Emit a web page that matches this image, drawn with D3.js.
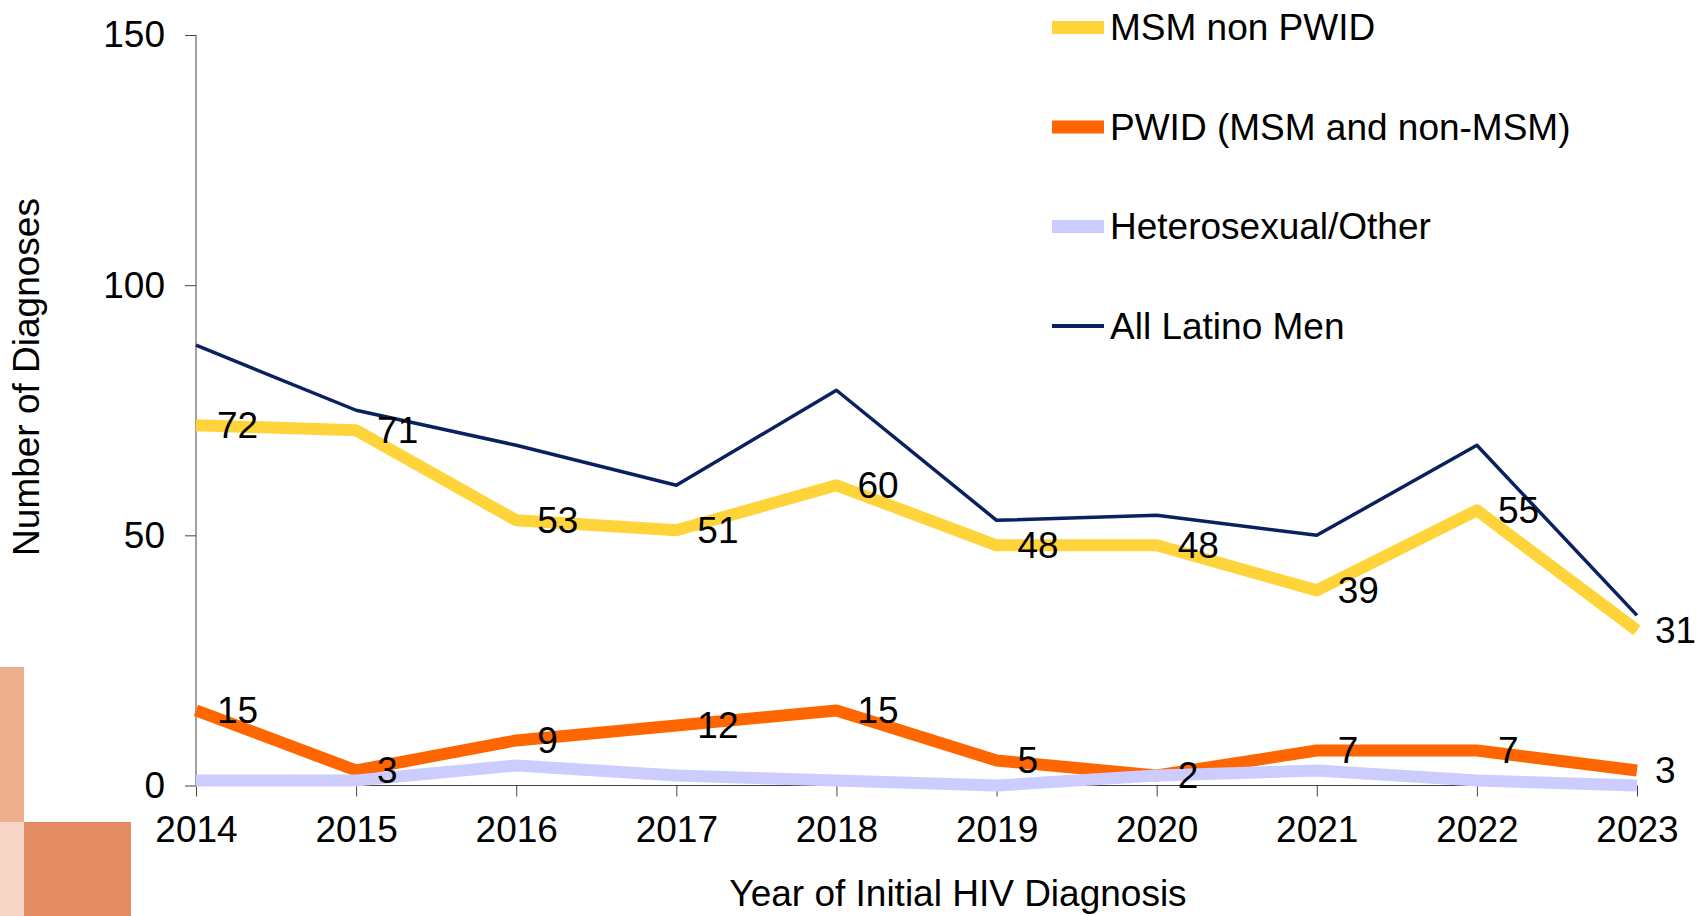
<html>
  <head>
    <style>
      body { margin: 0; background: #fff; }
      text { font-family: "Liberation Sans", Arial, sans-serif; fill: #000; }
    </style>
  </head>
  <body>
    <svg width="1697" height="916"></svg>
    <script src="https://d3js.org/d3.v7.min.js"></script>
    <script>
      // data
      var years     = [2014, 2015, 2016, 2017, 2018, 2019, 2020, 2021, 2022, 2023];
      var msm       = [72, 71, 53, 51, 60, 48, 48, 39, 55, 31];
      var pwid      = [15, 3, 9, 12, 15, 5, 2, 7, 7, 3];
      var hetero    = [1, 1, 4, 2, 1, 0, 2, 3, 1, 0];
      var allLatino = [88, 75, 68, 60, 79, 53, 54, 50, 68, 34];
      var yTicks    = [0, 50, 100, 150];

      var series = [
        { name: "MSM non PWID",             values: msm,       color: "#FFD43A", width: 12, labels: true },
        { name: "PWID (MSM and non-MSM)",   values: pwid,      color: "#FF6600", width: 12, labels: true },
        { name: "Heterosexual/Other",       values: hetero,    color: "#CCCCFF", width: 12, labels: false },
        { name: "All Latino Men",           values: allLatino, color: "#0A2160", width: 3.5, labels: false }
      ];

      var svg = d3.select("svg");

      // decorative blocks, bottom left
      svg.append("rect").attr("x", 0).attr("y", 667).attr("width", 24).attr("height", 155).attr("fill", "#EDAF8E");
      svg.append("rect").attr("x", 0).attr("y", 822).attr("width", 24).attr("height", 94).attr("fill", "#F6D5C6");
      svg.append("rect").attr("x", 24).attr("y", 822).attr("width", 107).attr("height", 94).attr("fill", "#E38C62");

      var x = d3.scalePoint().domain(years).range([196, 1637]);
      var y = d3.scaleLinear().domain([0, 150]).range([785.5, 35]);

      var fs = 37;

      // y axis
      var yAxis = svg.append("g")
          .attr("transform", "translate(196,0)")
          .call(d3.axisLeft(y).tickValues(yTicks).tickSize(11).tickPadding(20));
      yAxis.select(".domain").attr("stroke", "#444").attr("d", "M0," + y(150) + "V" + y(0));
      yAxis.selectAll(".tick line").attr("stroke", "#444");
      yAxis.selectAll("text").attr("font-size", fs).attr("font-family", "Liberation Sans, Arial, sans-serif").attr("fill", "#000");

      // x axis
      var xAxis = svg.append("g")
          .attr("transform", "translate(0," + y(0) + ")")
          .call(d3.axisBottom(x).tickSize(11).tickPadding(19).tickFormat(d3.format("d")));
      xAxis.select(".domain").attr("stroke", "#444").attr("d", "M196,0H1637");
      xAxis.selectAll(".tick line").attr("stroke", "#444");
      xAxis.selectAll("text").attr("font-size", fs).attr("font-family", "Liberation Sans, Arial, sans-serif").attr("fill", "#000");

      // axis titles
      svg.append("text")
          .attr("x", 958).attr("y", 906)
          .attr("text-anchor", "middle")
          .attr("font-size", fs)
          .text("Year of Initial HIV Diagnosis");
      svg.append("text")
          .attr("transform", "translate(39,377) rotate(-90)")
          .attr("text-anchor", "middle")
          .attr("font-size", fs)
          .text("Number of Diagnoses");

      var line = d3.line()
          .x(function(d, i) { return x(years[i]); })
          .y(function(d) { return y(d); });

      svg.append("g").selectAll("path")
          .data(series)
          .enter().append("path")
          .attr("d", function(d) { return line(d.values); })
          .attr("fill", "none")
          .attr("stroke", function(d) { return d.color; })
          .attr("stroke-width", function(d) { return d.width; })
          .attr("stroke-linejoin", "round");

      // data labels
      series.filter(function(s) { return s.labels; }).forEach(function(s) {
        svg.append("g").selectAll("text")
            .data(s.values)
            .enter().append("text")
            .attr("x", function(d, i) { return x(years[i]) + (i === years.length - 1 ? 18 : 21); })
            .attr("y", function(d) { return y(d); })
            .attr("dy", "0.35em")
            .attr("font-size", fs)
            .text(function(d) { return d; });
      });

      // legend
      var legend = svg.append("g").selectAll("g")
          .data(series)
          .enter().append("g")
          .attr("transform", function(d, i) { return "translate(1052," + (27.5 + i * 99.5) + ")"; });
      legend.append("line")
          .attr("x1", 0).attr("x2", 52)
          .attr("stroke", function(d) { return d.color; })
          .attr("stroke-width", function(d) { return d.width > 5 ? 13 : 4; });
      legend.append("text")
          .attr("x", 58)
          .attr("dy", "0.35em")
          .attr("font-size", fs)
          .text(function(d) { return d.name; });
    </script>
  </body>
</html>
